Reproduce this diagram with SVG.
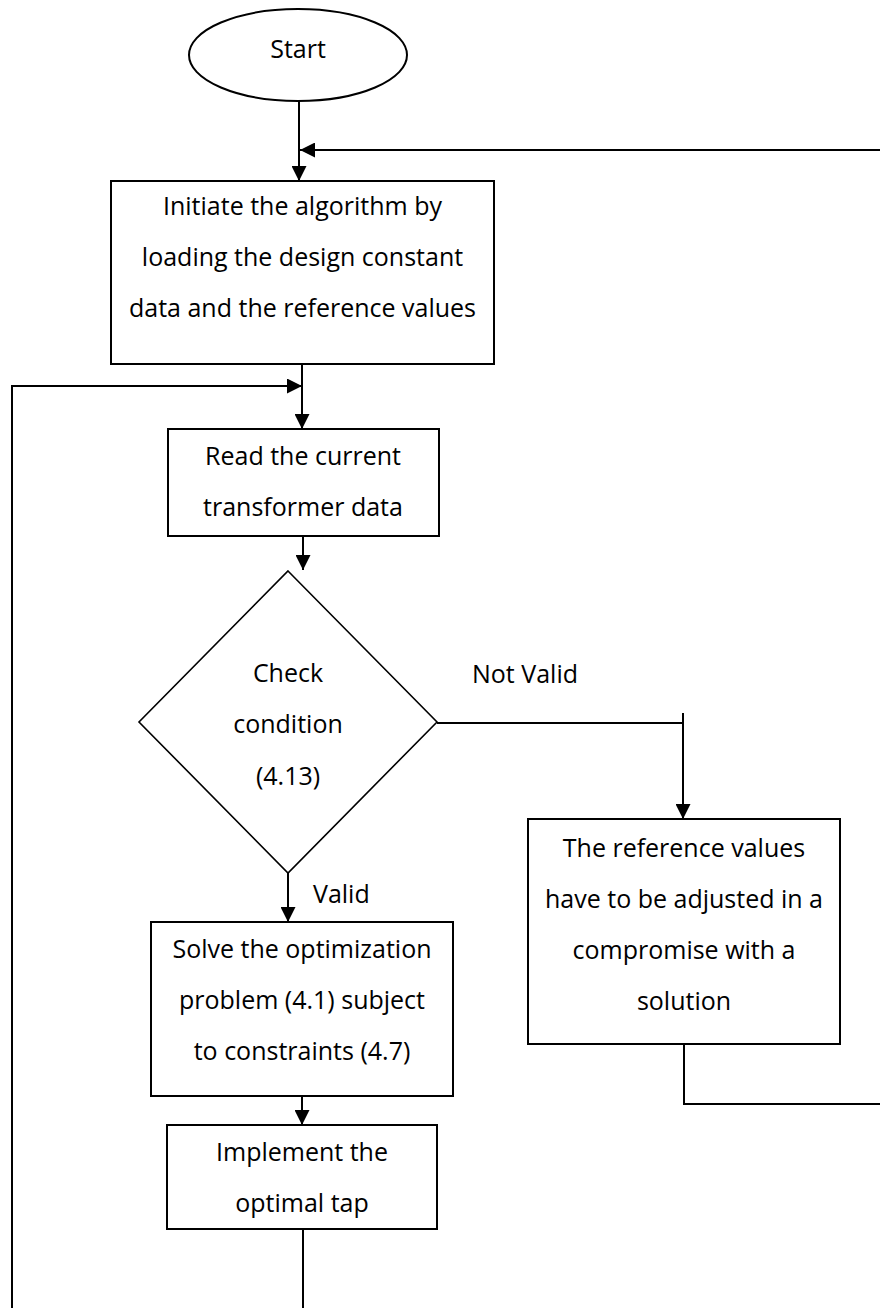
<svg xmlns="http://www.w3.org/2000/svg" width="880" height="1308" viewBox="0 0 880 1308">
<style>
.shape{fill:#fff;stroke:#000;stroke-width:2}
.dia{fill:#fff;stroke:#000;stroke-width:1.6}
.t{font-family:"Open Sans","Liberation Sans",sans-serif;font-size:25px;fill:#000;text-anchor:middle}
.lbl{font-family:"Open Sans","Liberation Sans",sans-serif;font-size:25px;fill:#000}
.c{fill:none;stroke:#000;stroke-width:2}
.ca{fill:none;stroke:#000;stroke-width:2;marker-end:url(#ah)}
</style>
<defs>
<marker id="ah" viewBox="0 0 10 10" refX="10" refY="5" markerWidth="15" markerHeight="15" markerUnits="userSpaceOnUse" orient="auto">
<path d="M0,0 L10,5 L0,10 z" fill="#000"/>
</marker>
</defs>
<rect width="880" height="1308" fill="#fff"/>
<g id="connectors">
<path class="ca" d="M299,101 L299,181"/>
<path class="ca" d="M880,150 L300,150"/>
<path class="ca" d="M302,364 L302,429"/>
<path class="ca" d="M12,1308 L12,386 L302,386"/>
<path class="ca" d="M303,536 L303,570"/>
<path class="c" d="M437,723 L683,723"/>
<path class="ca" d="M683,713 L683,819"/>
<path class="c" d="M684,1044 L684,1104 L880,1104"/>
<path class="ca" d="M288,873 L288,922"/>
<path class="ca" d="M302,1096 L302,1125"/>
<path class="c" d="M303,1229 L303,1308"/>
<text class="lbl" x="472" y="683">Not Valid</text>
<text class="lbl" x="313" y="903">Valid</text>
</g>
<g id="start">
<ellipse class="shape" cx="298" cy="55" rx="109" ry="46"/>
<text class="t" x="298" y="58">Start</text>
</g>
<g id="init">
<rect class="shape" x="111" y="181" width="383" height="183"/>
<text class="t" x="302.5" y="215">Initiate the algorithm by</text>
<text class="t" x="302.5" y="266">loading the design constant</text>
<text class="t" x="302.5" y="317">data and the reference values</text>
</g>
<g id="read">
<rect class="shape" x="168" y="429" width="271" height="107"/>
<text class="t" x="303" y="465">Read the current</text>
<text class="t" x="303" y="516">transformer data</text>
</g>
<g id="check">
<polygon class="dia" points="288,571 437,722 288,873 139,722"/>
<text class="t" x="288" y="682">Check</text>
<text class="t" x="288" y="733">condition</text>
<text class="t" x="288" y="785">(4.13)</text>
</g>
<g id="adjust">
<rect class="shape" x="528" y="819" width="312" height="225"/>
<text class="t" x="684" y="857">The reference values</text>
<text class="t" x="684" y="908">have to be adjusted in a</text>
<text class="t" x="684" y="959">compromise with a</text>
<text class="t" x="684" y="1010">solution</text>
</g>
<g id="solve">
<rect class="shape" x="151" y="922" width="302" height="174"/>
<text class="t" x="302" y="958">Solve the optimization</text>
<text class="t" x="302" y="1009">problem (4.1) subject</text>
<text class="t" x="302" y="1060">to constraints (4.7)</text>
</g>
<g id="implement">
<rect class="shape" x="167" y="1125" width="270" height="104"/>
<text class="t" x="302" y="1161">Implement the</text>
<text class="t" x="302" y="1212">optimal tap</text>
</g>
</svg>
